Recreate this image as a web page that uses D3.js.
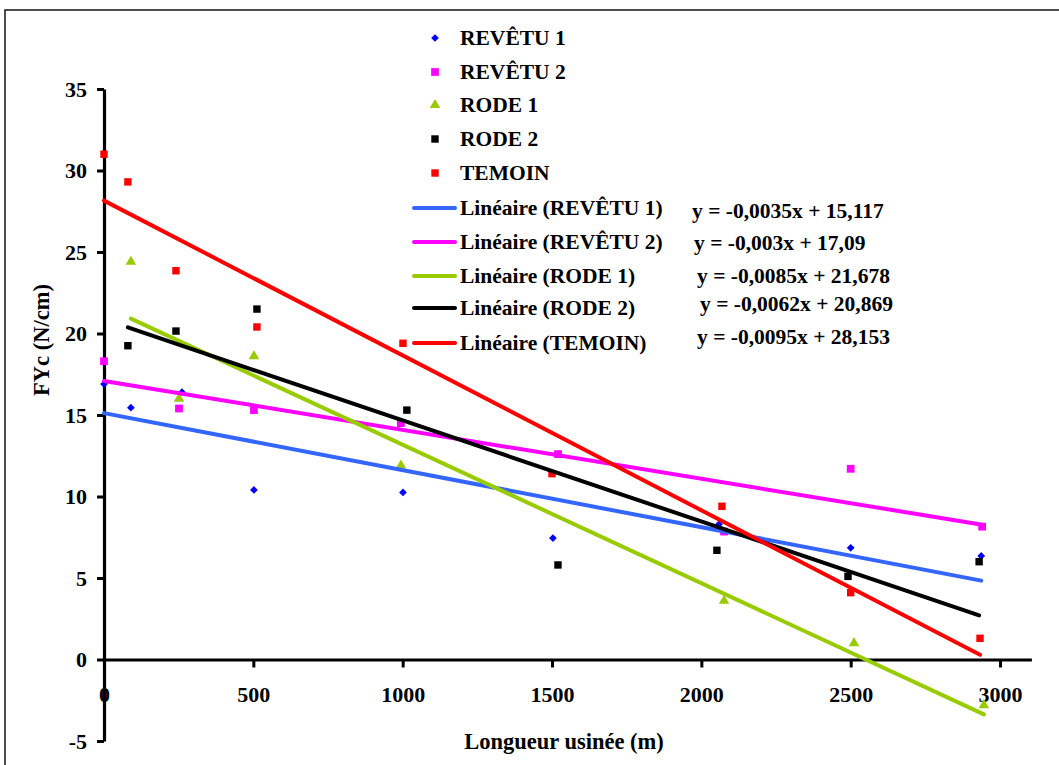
<!DOCTYPE html>
<html>
<head>
<meta charset="utf-8">
<script src="https://cdn.jsdelivr.net/npm/d3@7/dist/d3.min.js"></script>
<style>
  html, body { margin: 0; padding: 0; background: #fff; }
  svg { display: block; }
  svg text { font-family: "Liberation Serif", "Times New Roman", Times, serif !important; font-weight: bold; fill: #000; }
</style>
</head>
<body>
<svg id="chart" width="1059" height="765"></svg>
<script>
// ---- Data ----
const seriesNames = ["REVÊTU 1", "REVÊTU 2", "RODE 1", "RODE 2", "TEMOIN"];

const xRevetu1 = [0, 90, 261, 502, 1001, 1503, 2059, 2500, 2937];
const yRevetu1 = [16.9, 15.45, 16.4, 10.4, 10.25, 7.45, 8.3, 6.85, 6.35];

const xRevetu2 = [0, 251, 502, 994, 1520, 2076, 2500, 2940];
const yRevetu2 = [18.3, 15.4, 15.3, 14.5, 12.6, 7.85, 11.7, 8.15];

const xRode1 = [90, 251, 502, 994, 2076, 2511, 2946];
const yRode1 = [24.4, 16.0, 18.6, 11.9, 3.6, 1.0, -2.8];

const xRode2 = [80, 241, 512, 1014, 1520, 2052, 2491, 2930];
const yRode2 = [19.25, 20.15, 21.5, 15.3, 5.8, 6.7, 5.1, 6.0];

const xTemoin = [0, 80, 241, 512, 1001, 1500, 2069, 2500, 2933];
const yTemoin = [31.0, 29.3, 23.85, 20.4, 19.4, 11.4, 9.4, 4.1, 1.3];

// Linear trend lines as printed on the chart
const trendSlopes = [-0.0035, -0.003, -0.0085, -0.0062, -0.0095];
const trendIntercepts = [15.117, 17.09, 21.678, 20.869, 28.153];
const trendLabels = [
  "y = -0,0035x + 15,117",
  "y = -0,003x + 17,09",
  "y = -0,0085x + 21,678",
  "y = -0,0062x + 20,869",
  "y = -0,0095x + 28,153"
];

const xTicks = [0, 500, 1000, 1500, 2000, 2500, 3000];
const yTicks = [-5, 0, 5, 10, 15, 20, 25, 30, 35];

const xTitle = "Longueur usinée (m)";
const yTitle = "FYc (N/cm)";

// ---- Styles ----
const FONT = '"Liberation Serif", "Times New Roman", Times, serif';
const markerColors = ["#0000FF", "#FF00FF", "#99CC00", "#000000", "#FF0000"];
const lineColors = ["#3366FF", "#FF00FF", "#99CC00", "#000000", "#FF0000"];
const markerShapes = [d3.symbolSquare, d3.symbolSquare, d3.symbolTriangle, d3.symbolSquare, d3.symbolSquare];
const markerRotate = [45, 0, 0, 0, 0];
const markerSizes = [30, 60, 48, 55, 55];

const series = [
  {x: xRevetu1, y: yRevetu1},
  {x: xRevetu2, y: yRevetu2},
  {x: xRode1, y: yRode1},
  {x: xRode2, y: yRode2},
  {x: xTemoin, y: yTemoin}
].map((s, i) => ({
  name: seriesNames[i],
  points: s.x.map((xv, j) => ({x: xv, y: s.y[j]})),
  slope: trendSlopes[i],
  intercept: trendIntercepts[i],
  eq: trendLabels[i],
  i
}));

const svg = d3.select("#chart");

// outer frame
svg.append("rect")
  .attr("x", 5).attr("y", 10)
  .attr("width", 1100).attr("height", 800)
  .attr("fill", "none").attr("stroke", "#222").attr("stroke-width", 1.6);

const x = d3.scaleLinear().domain([0, 3105]).range([104, 1031.4]);
const y = d3.scaleLinear().domain([-5, 35]).range([741, 89]);

// ---- Axes ----
const xAxisG = svg.append("g")
  .attr("transform", `translate(0,${y(0)})`)
  .call(d3.axisBottom(x).tickValues(xTicks).tickFormat(d => String(d))
    .tickSizeInner(8).tickSizeOuter(0));
xAxisG.attr("font-family", FONT);
xAxisG.select(".domain").attr("stroke", "#000").attr("stroke-width", 3.2);
xAxisG.selectAll(".tick line").attr("stroke", "#000").attr("stroke-width", 3);
xAxisG.selectAll(".tick text")
  .attr("y", 42).attr("dy", 0)
  .style("font-family", FONT)
  .style("font-size", "22px");

const yAxisG = svg.append("g")
  .attr("transform", `translate(${x(0)},0)`)
  .call(d3.axisLeft(y).tickValues(yTicks).tickFormat(d => String(d))
    .tickSizeInner(7).tickSizeOuter(0).tickPadding(10));
yAxisG.attr("font-family", FONT);
yAxisG.select(".domain").attr("stroke", "#000").attr("stroke-width", 3.2);
yAxisG.selectAll(".tick line").attr("stroke", "#000").attr("stroke-width", 3);
yAxisG.selectAll(".tick text")
  .attr("dy", "0.34em")
  .style("font-family", FONT)
  .style("font-size", "22px");

// y axis drawn over the x "0" label, as in the reference
yAxisG.raise();

// axis titles
svg.append("text")
  .attr("x", 564).attr("y", 749)
  .attr("text-anchor", "middle")
  .style("font-family", FONT)
  .style("font-size", "22.5px")
  .text(xTitle);

svg.append("text")
  .attr("transform", "translate(49,340) rotate(-90)")
  .attr("text-anchor", "middle")
  .style("font-family", FONT)
  .style("font-size", "22.5px")
  .text(yTitle);

// ---- Points ----
const pointsG = svg.append("g");
series.forEach(s => {
  pointsG.selectAll(null)
    .data(s.points)
    .join("path")
    .attr("transform", d => `translate(${x(d.x)},${y(d.y)}) rotate(${markerRotate[s.i]})`)
    .attr("d", d3.symbol().type(markerShapes[s.i]).size(markerSizes[s.i]))
    .attr("fill", markerColors[s.i]);
});

// ---- Trend lines ----
const linesG = svg.append("g");
series.forEach(s => {
  const [x0, x1] = d3.extent(s.points, d => d.x);
  const pts = [x0, x1].map(xv => [x(xv), y(s.slope * xv + s.intercept)]);
  linesG.append("path")
    .attr("d", d3.line()(pts))
    .attr("fill", "none")
    .attr("stroke", lineColors[s.i])
    .attr("stroke-width", 4)
    .attr("stroke-linecap", "round");
});

// ---- Legend ----
const legendRowsY = [38, 72, 105, 139, 173, 208, 242, 276, 308, 343];
const legendG = svg.append("g").style("font-family", FONT);
series.forEach((s, k) => {
  const cy = legendRowsY[k];
  legendG.append("path")
    .attr("transform", `translate(435,${cy}) rotate(${markerRotate[s.i]})`)
    .attr("d", d3.symbol().type(markerShapes[s.i]).size(markerSizes[s.i]))
    .attr("fill", markerColors[s.i]);
  legendG.append("text")
    .attr("x", 460).attr("y", cy).attr("dy", "0.34em")
    .style("font-family", FONT)
    .style("font-size", "21.5px")
    .text(s.name);
});
const eqPos = [[692, 211], [694, 243], [697, 276], [700, 304], [697, 337]];
series.forEach((s, k) => {
  const cy = legendRowsY[5 + k];
  legendG.append("line")
    .attr("x1", 414).attr("x2", 455)
    .attr("y1", cy).attr("y2", cy)
    .attr("stroke", lineColors[s.i]).attr("stroke-width", 4)
    .attr("stroke-linecap", "round");
  legendG.append("text")
    .attr("x", 460).attr("y", cy).attr("dy", "0.34em")
    .style("font-family", FONT)
    .style("font-size", "21.5px")
    .text("Linéaire (" + s.name + ")");
  legendG.append("text")
    .attr("x", eqPos[k][0]).attr("y", eqPos[k][1]).attr("dy", "0.34em")
    .style("font-family", FONT)
    .style("font-size", "21.5px")
    .text(s.eq);
});
</script>
</body>
</html>
